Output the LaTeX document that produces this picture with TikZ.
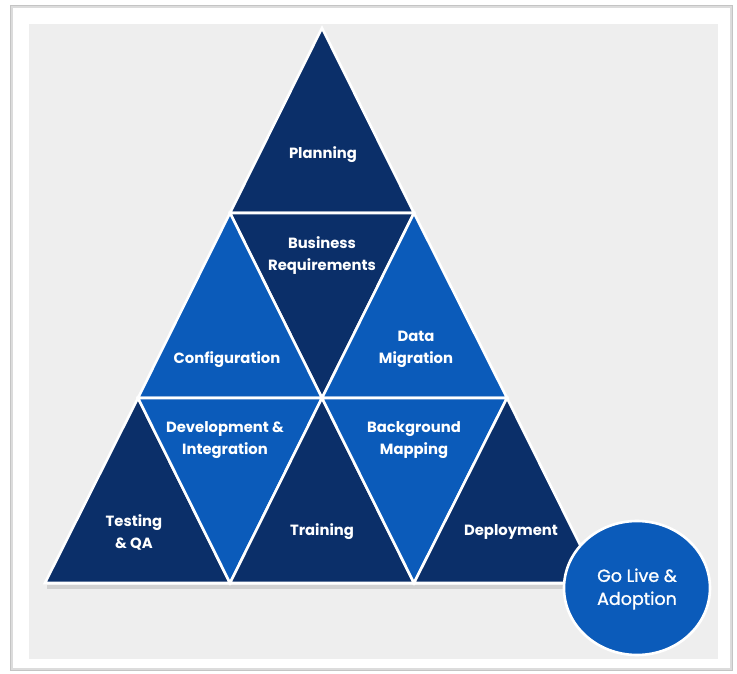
\documentclass[tikz,border=0pt]{standalone}
\usepackage{fontspec}
\setmainfont{Poppins}
\newfontfamily\circlefont[FakeBold=1.2]{Poppins}
\definecolor{navy}{HTML}{0B2F69}
\definecolor{brightblue}{HTML}{0B5BBA}
\definecolor{panelgray}{HTML}{EEEEEE}
\definecolor{framegray}{HTML}{C4C4C4}
\tikzset{
  dark/.style={fill=navy, draw=white, line width=2.6pt, line join=miter},
  light/.style={fill=brightblue, draw=white, line width=2.6pt, line join=miter},
  lbl/.style={text=white, font=\bfseries\fontsize{14.8}{22}\selectfont, align=center, inner sep=0pt},
}
\begin{document}
\begin{tikzpicture}[x=1pt,y=-1pt]
\useasboundingbox (0,0) rectangle (737,674);
% frame
\fill[white] (0,0) rectangle (737,674);
\draw[framegray!60, line width=3pt] (11,7) rectangle (731,669);
\draw[framegray, line width=1pt] (10,6) rectangle (732,670);
\fill[panelgray] (29,24) rectangle (718,659);
% grid coordinates
\coordinate (A) at (322,28);
\coordinate (B1) at (230,213); \coordinate (B2) at (414,213);
\coordinate (C1) at (138,398); \coordinate (C2) at (322,398); \coordinate (C3) at (507,398);
\coordinate (D1) at (45,583); \coordinate (D2) at (230,583); \coordinate (D3) at (414,583); \coordinate (D4) at (599,583);
% base shadow
\fill[black!18] (47,585) rectangle (597,589);
% triangles
\draw[dark]  (A) -- (B2) -- (B1) -- cycle;
\draw[dark]  (B1) -- (B2) -- (C2) -- cycle;
\draw[light] (B1) -- (C2) -- (C1) -- cycle;
\draw[light] (B2) -- (C3) -- (C2) -- cycle;
\draw[dark]  (C1) -- (D2) -- (D1) -- cycle;
\draw[light] (C1) -- (C2) -- (D2) -- cycle;
\draw[dark]  (C2) -- (D3) -- (D2) -- cycle;
\draw[light] (C2) -- (C3) -- (D3) -- cycle;
\draw[dark]  (C3) -- (D4) -- (D3) -- cycle;
% labels
\node[lbl] (planning) at (323,155) {Planning};
\node[lbl] (busreq) at (322,256) {Business\\Requirements};
\node[lbl] (config) at (227,360) {Configuration};
\node[lbl] (datamig) at (416,349) {Data\\Migration};
\node[lbl] (devint) at (225,440) {Development \&\\Integration};
\node[lbl] (bgmap) at (414,440) {Background\\Mapping};
\node[lbl] (testqa) at (134,532) {Testing\\\& QA};
\node[lbl] (training) at (322,532) {Training};
\node[lbl] (deploy) at (511,532) {Deployment};
% circle
\draw[fill=brightblue, draw=white, line width=2.6pt] (637,588) ellipse [x radius=73, y radius=67];
\node[text=white, font=\circlefont\fontsize{17.5}{23}\selectfont, align=center, inner sep=0pt] (golive) at (637,589) {Go Live \&\\Adoption};
\end{tikzpicture}
\end{document}
